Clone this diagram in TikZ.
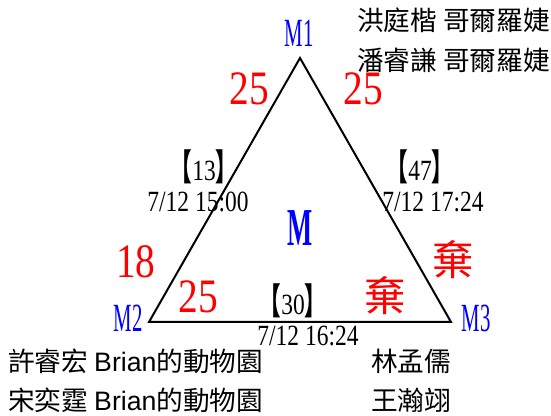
\documentclass[tikz,border=0pt]{standalone}
\usepackage{fontspec}
\setmainfont{Liberation Serif}
\newfontfamily\cjk{Noto Sans CJK TC}
\newfontfamily\arial{Liberation Sans}
\usepackage{tikz}

\newcommand{\narrow}[2]{\scalebox{#1}[1]{#2}}
\newcommand{\brk}[1]{\narrow{0.6}{\cjk\bfseries\fontsize{27}{27}\selectfont 【}\narrow{0.8}{#1}\narrow{0.6}{\cjk\bfseries\fontsize{27}{27}\selectfont 】}}

\begin{document}
\begin{tikzpicture}[x=0.75pt,y=-0.75pt,
    every node/.style={inner sep=0pt},
    vlab/.style={text=blue, font=\fontsize{30}{30}\selectfont},
    score/.style={text=red, font=\fontsize{36}{36}\selectfont},
    quit/.style={text=red, font=\cjk\fontsize{31}{31}\selectfont},
    game/.style={font=\fontsize{22}{22}\selectfont},
    names/.style={font=\cjk\fontsize{20}{20}\selectfont, anchor=west}]
    \useasboundingbox (0,0) rectangle (551,416);

    \coordinate (top) at (300,58);
    \coordinate (lft) at (149,322);
    \coordinate (rgt) at (451,322);
    \draw[line width=1.5pt] (top) -- (lft) -- (rgt) -- cycle;

    % vertices
    \node[vlab] (m1) at (299,33) {\narrow{0.52}{M1}};
    \node[vlab] (m2) at (128,318) {\narrow{0.52}{M2}};
    \node[vlab] (m3) at (476,318) {\narrow{0.52}{M3}};
    \node[text=blue, font=\bfseries\fontsize{40}{40}\selectfont] (mid) at (300,228) {\narrow{0.5}{M}};

    % scores
    \node[score] (s12) at (249,89) {\narrow{0.82}{25}};
    \node[score] (s13) at (363,89) {\narrow{0.82}{25}};
    \node[score] (s21) at (136,262) {\narrow{0.82}{18}};
    \node[score] (s23) at (198,297) {\narrow{0.82}{25}};
    \node[quit] (q31) at (453,260) {棄};
    \node[quit] (q32) at (385,296) {棄};

    % games
    \node[game] (g12) at (204,167) {\brk{13}};
    \node[game] (d12) at (198,202) {\narrow{0.8}{7/12 15:00}};
    \node[game] (g13) at (420,167) {\brk{47}};
    \node[game] (d13) at (433,202) {\narrow{0.8}{7/12 17:24}};
    \node[game] (g23) at (293,301) {\brk{30}};
    \node[game] (d23) at (308,336) {\narrow{0.8}{7/12 16:24}};

    % players
    \node[names] (p1a) at (357,20) {洪庭楷 哥爾羅婕};
    \node[names] (p1b) at (357,60) {潘睿謙 哥爾羅婕};
    \node[names] (p2a) at (8,361) {許睿宏 {\arial Brian}的動物園};
    \node[names] (p2b) at (8,400) {宋奕霆 {\arial Brian}的動物園};
    \node[names, anchor=center] (p3a) at (411,361) {林孟儒};
    \node[names, anchor=center] (p3b) at (411,400) {王瀚翊};
\end{tikzpicture}
\end{document}
